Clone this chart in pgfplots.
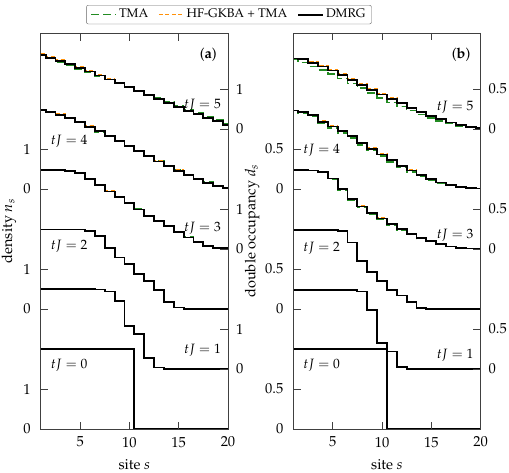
\documentclass[border=0pt]{standalone}
\usepackage[T1]{fontenc}
\usepackage{mathpazo}
\usepackage{pgfplots}
\usepackage{pgfplotstable}
\pgfplotsset{compat=1.18}

\definecolor{tmagreen}{RGB}{34,139,34}
\definecolor{hforange}{RGB}{255,145,10}

\tikzset{
  tma/.style={draw=tmagreen, line width=1.6pt, dash pattern=on 8pt off 4pt},
  hf/.style={draw=hforange, line width=1.5pt, dash pattern=on 4pt off 2.5pt},
  dmrg/.style={draw=black, line width=1.8pt},
  tjlabel/.style={inner sep=0pt, font=\fontsize{13.5}{16}\selectfont},
}

% density n_s per site, one column per time tJ = 0..5
\pgfplotstableread{
s  n0 n1   n2   n3   n4   n5
1  2  2.00 1.99 1.98 1.97 1.86
2  2  2.00 1.99 1.98 1.93 1.78
3  2  2.00 1.99 1.97 1.86 1.70
4  2  2.00 1.99 1.95 1.77 1.62
5  2  2.00 1.99 1.90 1.67 1.53
6  2  2.00 1.96 1.76 1.56 1.44
7  2  1.99 1.83 1.60 1.45 1.34
8  2  1.94 1.53 1.44 1.33 1.24
9  2  1.71 1.29 1.30 1.21 1.15
10 2  1.08 1.13 1.16 1.08 1.05
11 0  0.88 0.87 0.99 0.95 0.95
12 0  0.27 0.71 0.83 0.82 0.85
13 0  0.04 0.47 0.70 0.69 0.76
14 0  0.01 0.17 0.57 0.57 0.66
15 0  0.00 0.04 0.42 0.46 0.56
16 0  0.00 0.01 0.29 0.35 0.46
17 0  0.00 0.00 0.17 0.25 0.37
18 0  0.00 0.00 0.08 0.16 0.28
19 0  0.00 0.00 0.03 0.08 0.20
20 0  0.00 0.00 0.02 0.03 0.11
}\densDMRG

\pgfplotstableread{
s  n0 n1   n2   n3   n4   n5
1  2  2.00 1.99 1.98 1.97 1.86
2  2  2.00 1.99 1.98 1.92 1.76
3  2  2.00 1.99 1.97 1.85 1.67
4  2  2.00 1.99 1.95 1.76 1.59
5  2  2.00 1.99 1.89 1.66 1.50
6  2  2.00 1.96 1.75 1.55 1.42
7  2  1.99 1.83 1.60 1.43 1.33
8  2  1.94 1.53 1.44 1.31 1.24
9  2  1.71 1.29 1.30 1.19 1.15
10 2  1.08 1.13 1.16 1.07 1.05
11 0  0.88 0.87 1.00 0.95 0.96
12 0  0.27 0.71 0.84 0.82 0.86
13 0  0.04 0.47 0.71 0.70 0.77
14 0  0.01 0.17 0.58 0.58 0.68
15 0  0.00 0.04 0.43 0.47 0.59
16 0  0.00 0.01 0.30 0.36 0.49
17 0  0.00 0.00 0.18 0.26 0.40
18 0  0.00 0.00 0.09 0.17 0.31
19 0  0.00 0.00 0.03 0.09 0.23
20 0  0.00 0.00 0.02 0.03 0.12
}\densTMA

\pgfplotstableread{
s  n0 n1   n2   n3   n4   n5
1  2  2.00 1.99 1.98 1.97 1.87
2  2  2.00 1.99 1.98 1.94 1.80
3  2  2.00 1.99 1.97 1.87 1.72
4  2  2.00 1.99 1.95 1.78 1.64
5  2  2.00 1.99 1.90 1.68 1.55
6  2  2.00 1.96 1.76 1.57 1.46
7  2  1.99 1.83 1.61 1.45 1.36
8  2  1.94 1.53 1.45 1.33 1.26
9  2  1.71 1.29 1.31 1.21 1.16
10 2  1.08 1.13 1.16 1.08 1.06
11 0  0.88 0.87 0.99 0.95 0.95
12 0  0.27 0.71 0.83 0.82 0.85
13 0  0.04 0.47 0.70 0.70 0.76
14 0  0.01 0.17 0.57 0.58 0.66
15 0  0.00 0.04 0.42 0.47 0.55
16 0  0.00 0.01 0.29 0.35 0.45
17 0  0.00 0.00 0.17 0.25 0.36
18 0  0.00 0.00 0.08 0.16 0.27
19 0  0.00 0.00 0.03 0.08 0.19
20 0  0.00 0.00 0.02 0.03 0.11
}\densHF

% double occupancy d_s per site, one column per time tJ = 0..5
\pgfplotstableread{
s  d0 d1    d2   d3    d4    d5
1  1  0.99  0.99 0.99  0.98  0.88
2  1  0.99  0.99 0.99  0.96  0.87
3  1  0.99  0.99 0.98  0.92  0.82
4  1  0.99  0.99 0.96  0.84  0.78
5  1  0.99  0.99 0.88  0.78  0.73
6  1  0.99  0.97 0.75  0.72  0.67
7  1  0.99  0.83 0.62  0.66  0.61
8  1  0.97  0.60 0.53  0.57  0.55
9  1  0.74  0.46 0.45  0.50  0.49
10 1  0.33  0.35 0.38  0.43  0.43
11 0  0.22  0.24 0.31  0.36  0.37
12 0  0.03  0.17 0.25  0.29  0.32
13 0  0.005 0.09 0.19  0.23  0.26
14 0  0.00  0.01 0.14  0.17  0.21
15 0  0.00  0.00 0.10  0.12  0.16
16 0  0.00  0.00 0.06  0.08  0.12
17 0  0.00  0.00 0.03  0.05  0.08
18 0  0.00  0.00 0.01  0.025 0.05
19 0  0.00  0.00 0.005 0.01  0.02
20 0  0.00  0.00 0.00  0.005 0.01
}\docDMRG

\pgfplotstableread{
s  d0 d1    d2   d3    d4    d5
1  1  0.99  0.99 0.99  0.98  0.875
2  1  0.99  0.99 0.99  0.95  0.83
3  1  0.99  0.99 0.98  0.91  0.78
4  1  0.99  0.99 0.96  0.82  0.74
5  1  0.99  0.99 0.87  0.76  0.69
6  1  0.99  0.97 0.74  0.70  0.63
7  1  0.99  0.83 0.61  0.64  0.57
8  1  0.97  0.60 0.52  0.55  0.51
9  1  0.74  0.46 0.44  0.48  0.45
10 1  0.33  0.35 0.37  0.41  0.39
11 0  0.22  0.24 0.30  0.34  0.33
12 0  0.03  0.17 0.24  0.27  0.28
13 0  0.005 0.09 0.18  0.21  0.23
14 0  0.00  0.01 0.13  0.16  0.18
15 0  0.00  0.00 0.095 0.11  0.14
16 0  0.00  0.00 0.06  0.07  0.10
17 0  0.00  0.00 0.03  0.045 0.07
18 0  0.00  0.00 0.01  0.02  0.04
19 0  0.00  0.00 0.005 0.01  0.02
20 0  0.00  0.00 0.00  0.005 0.01
}\docTMA

\pgfplotstableread{
s  d0 d1    d2   d3    d4    d5
1  1  0.99  0.99 0.99  0.98  0.88
2  1  0.99  0.99 0.99  0.96  0.875
3  1  0.99  0.99 0.98  0.925 0.835
4  1  0.99  0.99 0.96  0.85  0.795
5  1  0.99  0.99 0.88  0.79  0.745
6  1  0.99  0.97 0.755 0.73  0.685
7  1  0.99  0.83 0.625 0.67  0.625
8  1  0.97  0.60 0.535 0.58  0.565
9  1  0.74  0.46 0.455 0.51  0.505
10 1  0.33  0.35 0.385 0.44  0.445
11 0  0.22  0.24 0.31  0.37  0.385
12 0  0.03  0.17 0.25  0.295 0.33
13 0  0.005 0.09 0.19  0.235 0.27
14 0  0.00  0.01 0.14  0.17  0.215
15 0  0.00  0.00 0.10  0.12  0.165
16 0  0.00  0.00 0.06  0.08  0.12
17 0  0.00  0.00 0.03  0.05  0.08
18 0  0.00  0.00 0.01  0.025 0.05
19 0  0.00  0.00 0.005 0.01  0.02
20 0  0.00  0.00 0.00  0.005 0.01
}\docHF

\pgfplotsset{
  panel/.style={
    scale only axis, width=187.3pt, height=396pt,
    xmin=1, xmax=20, ymin=0,
    xtick={5,10,15,20},
    axis on top,
    tick align=inside, major tick length=7.5pt,
    axis line style={black!75, line width=0.8pt},
    every tick/.style={black!75, line width=0.8pt},
    xticklabel style={yshift=-3pt},
    xlabel={site $s$},
    xlabel style={at={(axis description cs:0.5,-0.0636)}, anchor=north},
  },
  leftticks/.style={ytick pos=left, yticklabel pos=left,
    yticklabel style={xshift=-5pt}},
  rightticks/.style={ytick pos=right, yticklabel pos=right,
    yticklabel style={xshift=3pt}, xtick=\empty, xlabel={},
    axis line style={draw=none}},
}

\begin{document}
\fontsize{14.5}{17}\selectfont
\begin{tikzpicture}
% ---------------- (a) density ----------------
\begin{axis}[panel, leftticks, at={(0pt,0pt)}, anchor=south west,
  ymax=9.9, ytick={0,1,3,4,6,7}, yticklabels={0,1,0,1,0,1},
  ylabel={density $n_s$},
  ylabel style={at={(axis description cs:-0.169,0.5)}, anchor=center},
  legend columns=3,
  legend cell align=left,
  legend image code/.code={\draw[#1] (0pt,0pt) -- (25pt,0pt);},
  legend style={at={(axis description cs:1.005,1.0707)}, anchor=north,
    draw=black!60, rounded corners=2pt, fill=white,
    font=\fontsize{12.5}{15}\selectfont, inner xsep=4pt, inner ysep=2pt,
    /tikz/every even column/.append style={column sep=8pt}},
]
\addlegendimage{tma}\addlegendentry{TMA}
\addlegendimage{hf}\addlegendentry{HF-GKBA + TMA}
\addlegendimage{dmrg}\addlegendentry{DMRG}
\pgfplotsinvokeforeach{0,...,5}{
  \addplot[tma, const plot mark mid, forget plot]
    table[x=s, y expr=\thisrow{n#1}+1.5*#1] {\densTMA};
  \addplot[hf, const plot mark mid, forget plot]
    table[x=s, y expr=\thisrow{n#1}+1.5*#1] {\densHF};
  \addplot[dmrg, const plot mark mid, forget plot]
    table[x=s, y expr=\thisrow{n#1}+1.5*#1] {\densDMRG};
}
\node[anchor=east, inner sep=0pt, xshift=-11pt] at (axis description cs:1,0.944) {(\textbf{a})};
\node[tjlabel, anchor=east, xshift=-7pt] at (axis description cs:1,0.817) {$tJ = 5$};
\node[tjlabel, anchor=west, xshift=10pt] at (axis description cs:0,0.727) {$tJ = 4$};
\node[tjlabel, anchor=east, xshift=-7pt] at (axis description cs:1,0.507) {$tJ = 3$};
\node[tjlabel, anchor=west, xshift=10pt] at (axis description cs:0,0.462) {$tJ = 2$};
\node[tjlabel, anchor=east, xshift=-7pt] at (axis description cs:1,0.198) {$tJ = 1$};
\node[tjlabel, anchor=west, xshift=10pt] at (axis description cs:0,0.162) {$tJ = 0$};
\end{axis}
\begin{axis}[panel, rightticks, at={(0pt,0pt)}, anchor=south west,
  ymax=9.9, ytick={1.5,2.5,4.5,5.5,7.5,8.5}, yticklabels={0,1,0,1,0,1}]
\end{axis}

% ---------------- (b) double occupancy ----------------
\begin{axis}[panel, leftticks, at={(252.6pt,0pt)}, anchor=south west,
  ymax=4.95, ytick={0,0.5,1.5,2,3,3.5}, yticklabels={0,0.5,0,0.5,0,0.5},
  ylabel={double occupancy $d_s$},
  ylabel style={at={(axis description cs:-0.22,0.5)}, anchor=center},
]
\pgfplotsinvokeforeach{0,...,5}{
  \addplot[tma, const plot mark mid, forget plot]
    table[x=s, y expr=\thisrow{d#1}+0.75*#1] {\docTMA};
  \addplot[hf, const plot mark mid, forget plot]
    table[x=s, y expr=\thisrow{d#1}+0.75*#1] {\docHF};
  \addplot[dmrg, const plot mark mid, forget plot]
    table[x=s, y expr=\thisrow{d#1}+0.75*#1] {\docDMRG};
}
\node[anchor=east, inner sep=0pt, xshift=-10pt] at (axis description cs:1,0.944) {(\textbf{b})};
\node[tjlabel, anchor=east, xshift=-7pt] at (axis description cs:1,0.812) {$tJ = 5$};
\node[tjlabel, anchor=west, xshift=10pt] at (axis description cs:0,0.705) {$tJ = 4$};
\node[tjlabel, anchor=east, xshift=-7pt] at (axis description cs:1,0.489) {$tJ = 3$};
\node[tjlabel, anchor=west, xshift=10pt] at (axis description cs:0,0.457) {$tJ = 2$};
\node[tjlabel, anchor=east, xshift=-7pt] at (axis description cs:1,0.186) {$tJ = 1$};
\node[tjlabel, anchor=west, xshift=10pt] at (axis description cs:0,0.162) {$tJ = 0$};
\end{axis}
\begin{axis}[panel, rightticks, at={(252.6pt,0pt)}, anchor=south west,
  ymax=4.95, ytick={0.75,1.25,2.25,2.75,3.75,4.25}, yticklabels={0,0.5,0,0.5,0,0.5}]
\end{axis}

\pgfresetboundingbox
\path[use as bounding box] (-40.7pt,-43pt) rectangle (468.3pt,429pt);
\end{tikzpicture}
\end{document}
